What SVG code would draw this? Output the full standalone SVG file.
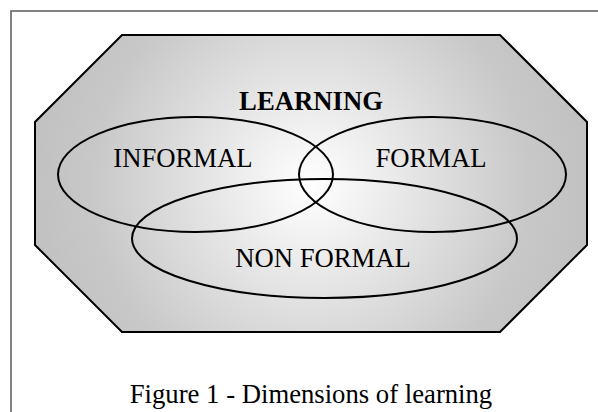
<svg xmlns="http://www.w3.org/2000/svg" width="598" height="412" viewBox="0 0 598 412">
<defs>
<radialGradient id="g" gradientUnits="userSpaceOnUse" cx="311" cy="185" r="290">
<stop offset="0" stop-color="#ffffff"/>
<stop offset="0.75" stop-color="#c8c8c8"/>
<stop offset="1" stop-color="#c0c0c0"/>
</radialGradient>
</defs>
<style>
.el{fill:none;stroke:#000;stroke-width:2}
.t{font-family:"Liberation Serif","Times New Roman",serif;font-size:26.7px;fill:#000;text-anchor:middle}
</style>
<rect x="11" y="11" width="600" height="420" fill="#fff" stroke="#5a5a5a" stroke-width="1.5"/>
<g id="learning">
<polygon points="122,35 500,35 587,122 587,245 500,332 122,332 35,245 35,122" fill="url(#g)" stroke="#000" stroke-width="2"/>
<text class="t" x="311" y="110" font-weight="bold">LEARNING</text>
</g>
<g id="informal">
<ellipse class="el" cx="195.5" cy="174.5" rx="137.5" ry="57.5"/>
<text class="t" x="183" y="167">INFORMAL</text>
</g>
<g id="formal">
<ellipse class="el" cx="432.5" cy="174.5" rx="133.5" ry="57.5"/>
<text class="t" x="431" y="167">FORMAL</text>
</g>
<g id="nonformal">
<ellipse class="el" cx="324.5" cy="238.5" rx="192.5" ry="59.5"/>
<text class="t" x="323" y="267">NON FORMAL</text>
</g>
<g id="connectors"/>
<text class="t" x="311" y="403">Figure 1 - Dimensions of learning</text>
</svg>
